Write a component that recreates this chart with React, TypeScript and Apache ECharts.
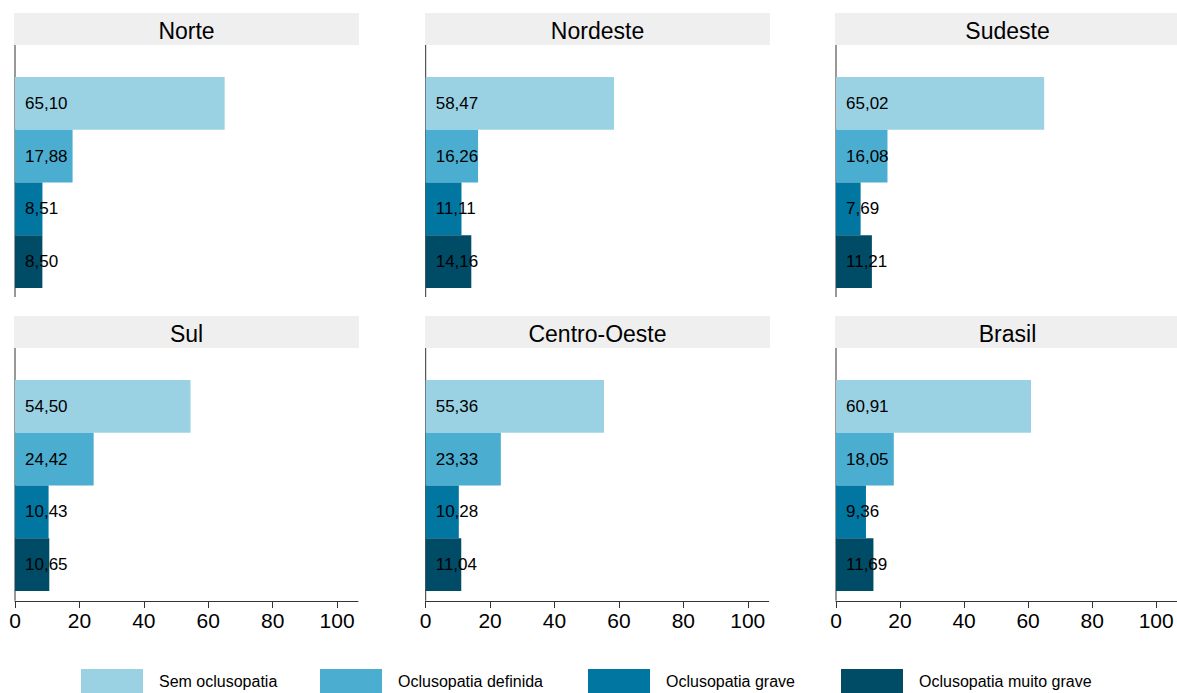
import React, { useEffect, useRef } from "react";
import * as echarts from "echarts";

// ---- data ----
const regions = ["Norte", "Nordeste", "Sudeste", "Sul", "Centro-Oeste", "Brasil"];
const categories = [
  "Sem oclusopatia",
  "Oclusopatia definida",
  "Oclusopatia grave",
  "Oclusopatia muito grave",
];
const norte = [65.1, 17.88, 8.51, 8.5];
const nordeste = [58.47, 16.26, 11.11, 14.16];
const sudeste = [65.02, 16.08, 7.69, 11.21];
const sul = [54.5, 24.42, 10.43, 10.65];
const centroOeste = [55.36, 23.33, 10.28, 11.04];
const brasil = [60.91, 18.05, 9.36, 11.69];
const regionValues = [norte, nordeste, sudeste, sul, centroOeste, brasil];
const xTicks = [0, 20, 40, 60, 80, 100];

// ---- styles / layout ----
const colors = ["#9AD2E4", "#4BAED1", "#0076A0", "#004C66"];
const FONT = '"Liberation Sans", Arial, Helvetica, sans-serif';
const colLefts = [15, 425.7, 836];
const stripLefts = [14, 425, 835];
const stripWidth = 345;
const stripTops = [13, 316];
const stripH = 32;
const barTops = [77, 380];
const plotBottoms = [297, 600.7];
const gridW = 343;
const gridH = 211;
const legendLefts = [81, 320, 588, 841];

function fmt(v: number) {
  return v.toFixed(2).replace(".", ",");
}

export default function App() {
  const ref = useRef<HTMLDivElement>(null);
  useEffect(() => {
    if (!ref.current) return;
    const chart = echarts.init(ref.current, undefined, { renderer: "svg" });

    const grid: any[] = [];
    const xAxis: any[] = [];
    const yAxis: any[] = [];
    const series: any[] = [];
    const graphic: any[] = [];

    regions.forEach((name, i) => {
      const col = i % 3;
      const row = Math.floor(i / 3);
      grid.push({ left: colLefts[col], top: barTops[row], width: gridW, height: gridH });
      xAxis.push({
        gridIndex: i,
        type: "value",
        min: 0,
        max: 106.5,
        show: row === 1,
        offset: 10,
        splitLine: { show: false },
        axisLine: { show: true, lineStyle: { color: "#333", width: 1 } },
        axisTick: { show: true, length: 7, customValues: xTicks, lineStyle: { color: "#333" } },
        axisLabel: {
          customValues: xTicks,
          fontSize: 21,
          color: "#000",
          margin: 9,
          fontFamily: FONT,
        },
      });
      yAxis.push({
        gridIndex: i,
        type: "category",
        data: categories,
        inverse: true,
        show: false,
      });
      const vals = regionValues[i];
      categories.forEach((cat, k) => {
        series.push({
          type: "bar",
          name: cat,
          xAxisIndex: i,
          yAxisIndex: i,
          stack: "p" + i,
          barCategoryGap: 0,
          data: categories.map((_, j) => (j === k ? vals[j] : "-")),
          itemStyle: { color: colors[k] },
          label: {
            show: true,
            position: "insideLeft",
            distance: 10,
            formatter: (p: any) => fmt(p.value),
            fontSize: 17,
            color: "#000",
            fontFamily: FONT,
          },
        });
      });
      graphic.push({
        type: "rect",
        shape: { x: stripLefts[col], y: stripTops[row], width: stripWidth, height: stripH },
        style: { fill: "#EFEFEF" },
        silent: true,
      });
      graphic.push({
        type: "text",
        x: stripLefts[col] + stripWidth / 2,
        y: stripTops[row] + stripH / 2 + 1.5,
        style: {
          text: name,
          fontSize: 23,
          fontFamily: FONT,
          fill: "#000",
          align: "center",
          verticalAlign: "middle",
        },
        silent: true,
      });
      graphic.push({
        type: "line",
        shape: {
          x1: colLefts[col],
          y1: stripTops[row] + stripH,
          x2: colLefts[col],
          y2: plotBottoms[row],
        },
        style: { stroke: "#333", lineWidth: 1 },
        silent: true,
      });
    });

    const legend = categories.map((cat, k) => ({
      data: [cat],
      left: legendLefts[k],
      top: 669,
      padding: 0,
      itemWidth: 62,
      itemHeight: 25,
      icon: "rect",
      selectedMode: false,
      textStyle: { fontSize: 16, color: "#000", fontFamily: FONT, padding: [0, 0, 0, 11] },
    }));

    chart.setOption({
      animation: false,
      backgroundColor: "#fff",
      grid,
      xAxis,
      yAxis,
      series,
      legend,
      graphic,
    });
    return () => chart.dispose();
  }, []);
  return (
    <div
      ref={ref}
      style={{ position: "fixed", left: 0, top: 0, width: 1177, height: 693 }}
    />
  );
}
